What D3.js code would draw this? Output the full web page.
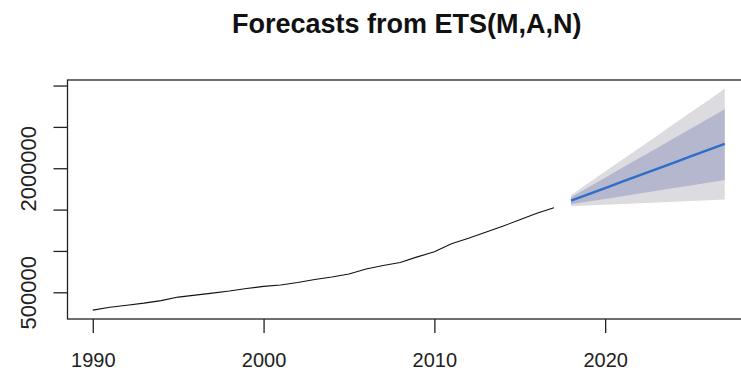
<!DOCTYPE html>
<html>
<head>
<meta charset="utf-8">
<script src="https://cdn.jsdelivr.net/npm/d3@7/dist/d3.min.js"></script>
<style>
  html, body { margin: 0; padding: 0; background: #ffffff; }
  svg { display: block; font-family: "Liberation Sans", Arial, sans-serif; }
</style>
</head>
<body>
<svg id="chart" width="741" height="375"></svg>
<script>
// Observed annual series
const histYears = [1990, 1991, 1992, 1993, 1994, 1995, 1996, 1997, 1998, 1999,
                   2000, 2001, 2002, 2003, 2004, 2005, 2006, 2007, 2008, 2009,
                   2010, 2011, 2012, 2013, 2014, 2015, 2016, 2017];
const histValues = [284000, 320000, 344000, 369000, 399000, 442000, 466000, 490000, 515000, 545000,
                    572000, 588000, 618000, 654000, 685000, 721000, 782000, 824000, 861000, 928000,
                    989000, 1086000, 1153000, 1226000, 1298000, 1377000, 1456000, 1523000];

// ETS(M,A,N) point forecasts with 80% and 95% prediction intervals
const fcYears = [2018, 2019, 2020, 2021, 2022, 2023, 2024, 2025, 2026, 2027];
const fcMean  = [1608000, 1684000, 1760000, 1837000, 1913000, 1989000, 2066000, 2142000, 2218000, 2295000];
const fcLo80  = [1564000, 1597000, 1629000, 1662000, 1694000, 1727000, 1760000, 1792000, 1825000, 1858000];
const fcHi80  = [1650000, 1768000, 1886000, 2005000, 2123000, 2240000, 2359000, 2477000, 2595000, 2714000];
const fcLo95  = [1541000, 1550000, 1558000, 1568000, 1577000, 1586000, 1596000, 1604000, 1613000, 1623000];
const fcHi95  = [1674000, 1817000, 1960000, 2103000, 2246000, 2388000, 2532000, 2674000, 2817000, 2960000];

// Axis ticks and their printed labels
const xTicks = [1990, 2000, 2010, 2020];
const xTickLabels = ["1990", "2000", "2010", "2020"];
const yTicks = [500000, 1000000, 1500000, 2000000, 2500000, 3000000];
const yTickLabels = ["500000", "", "", "2000000", "", ""];

const titleText = "Forecasts from ETS(M,A,N)";

const svg = d3.select("#chart");
const plot = { left: 67.5, right: 750, top: 80, bottom: 319 };

// R-style 4% range extension on both axes
function extend(lo, hi) {
  const d = (hi - lo) * 0.04;
  return [lo - d, hi + d];
}
const xAll = histYears.concat(fcYears);
const yAll = histValues.concat(fcLo95, fcHi95);

const x = d3.scaleLinear()
  .domain(extend(d3.min(xAll), d3.max(xAll)))
  .range([plot.left, plot.right]);
const y = d3.scaleLinear()
  .domain(extend(d3.min(yAll), d3.max(yAll)))
  .range([plot.bottom, plot.top]);

// Prediction-interval fans
const idx = fcYears.map((d, i) => i);
const band = (lo, hi) => d3.area()
  .x(i => x(fcYears[i]))
  .y0(i => y(lo[i]))
  .y1(i => y(hi[i]));

svg.append("path")
  .attr("d", band(fcLo95, fcHi95)(idx))
  .attr("fill", "#dbdbe0");
svg.append("path")
  .attr("d", band(fcLo80, fcHi80)(idx))
  .attr("fill", "#b4b7cd");

// Observed series
svg.append("path")
  .attr("d", d3.line().x((d, i) => x(histYears[i])).y(d => y(d))(histValues))
  .attr("fill", "none")
  .attr("stroke", "#111111")
  .attr("stroke-width", 1.1);

// Point forecasts
svg.append("path")
  .attr("d", d3.line().x((d, i) => x(fcYears[i])).y(d => y(d))(fcMean))
  .attr("fill", "none")
  .attr("stroke", "#2e6dc9")
  .attr("stroke-width", 2.4);

// Plot frame
svg.append("rect")
  .attr("x", plot.left).attr("y", plot.top)
  .attr("width", plot.right - plot.left).attr("height", plot.bottom - plot.top)
  .attr("fill", "none").attr("stroke", "#222222").attr("stroke-width", 1.3);

// Bottom axis
const xAxis = svg.append("g")
  .attr("transform", `translate(0,${plot.bottom})`)
  .call(d3.axisBottom(x).tickValues(xTicks)
    .tickFormat((d, i) => xTickLabels[i]).tickSize(14).tickPadding(20));
xAxis.select(".domain").remove();
xAxis.selectAll(".tick line").attr("stroke", "#222222").attr("stroke-width", 1.3);
xAxis.selectAll(".tick text")
  .attr("font-size", 20).attr("fill", "#222222")
  .attr("font-family", "'Liberation Sans', Arial, sans-serif");

// Left axis, labels rotated as in base R graphics
const yAxis = svg.append("g")
  .attr("transform", `translate(${plot.left},0)`)
  .call(d3.axisLeft(y).tickValues(yTicks)
    .tickFormat((d, i) => yTickLabels[i]).tickSize(14));
yAxis.select(".domain").remove();
yAxis.selectAll(".tick line").attr("stroke", "#222222").attr("stroke-width", 1.3);
yAxis.selectAll(".tick text")
  .attr("x", null).attr("dy", null)
  .attr("transform", "translate(-32,0) rotate(-90)")
  .attr("text-anchor", "middle")
  .attr("font-size", 22).attr("fill", "#222222")
  .attr("font-family", "'Liberation Sans', Arial, sans-serif");

// Title
svg.append("text")
  .attr("x", (plot.left + plot.right) / 2 - 2)
  .attr("y", 33)
  .attr("text-anchor", "middle")
  .attr("font-size", 27)
  .attr("font-weight", "bold")
  .attr("fill", "#111111")
  .text(titleText);
</script>
</body>
</html>
